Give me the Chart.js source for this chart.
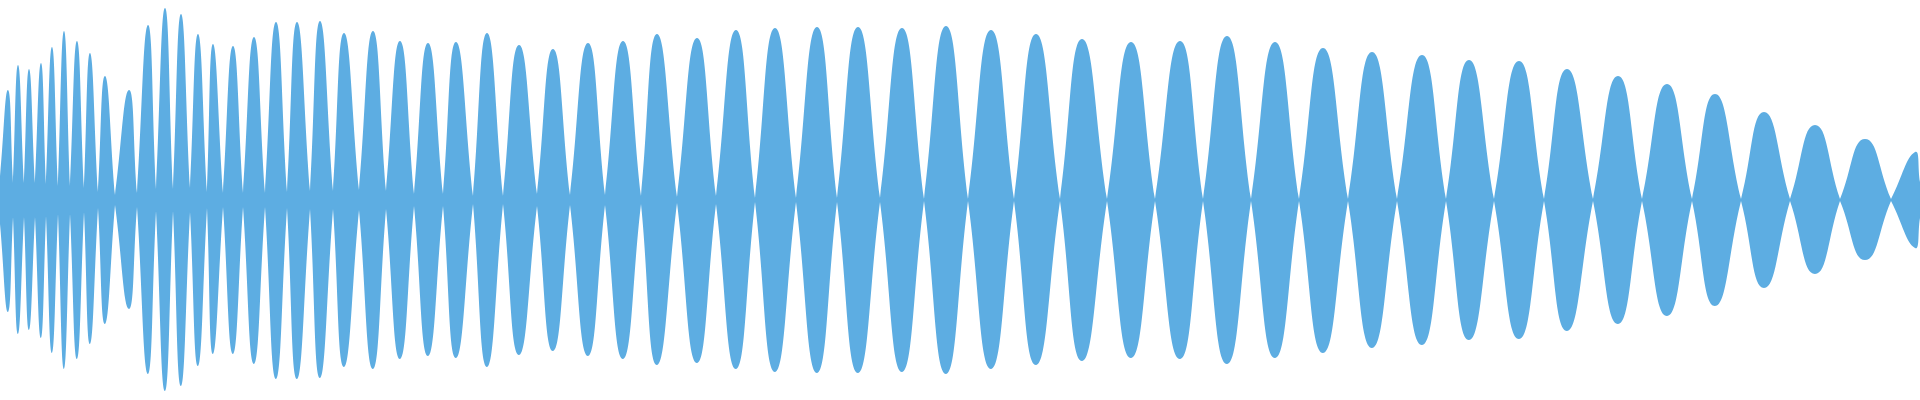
<!DOCTYPE html>
<html>
<head>
<meta charset="utf-8">
<style>
  html, body { margin: 0; padding: 0; background: #ffffff; }
  #wrap { width: 1920px; height: 400px; position: relative; }
</style>
<script src="https://cdn.jsdelivr.net/npm/chart.js@4"></script>
</head>
<body>
<div id="wrap"><canvas id="onda"></canvas></div>
<script>
// Posições (amostra) onde o envelope cruza o zero
const crossings = [0, 13, 24, 35, 46, 58, 70, 84, 98, 115, 137, 156, 173, 190, 207, 223, 243, 265, 287, 310,
    333, 359, 386, 414, 443, 473, 503, 537, 570, 605, 641, 677, 716, 755, 796, 837, 880, 924, 968,
    1014, 1060, 1107, 1155, 1203, 1251, 1299, 1348, 1397, 1446, 1494, 1544, 1593, 1642, 1692, 1741,
    1790, 1840, 1891, 1920];

// Amplitude residual em cada cruzamento
const crossLevel = [0.12, 0.085, 0.085, 0.085, 0.08, 0.07, 0.07, 0.06, 0.04, 0.025, 0.035, 0.055, 0.055, 0.06, 0.04,
    0.035, 0.035, 0.035, 0.04, 0.045, 0.045, 0.05, 0.045, 0.03, 0.03, 0.02, 0.02, 0.03, 0.025, 0.025, 0.02,
    0.015, 0.02, 0.01, 0.01, 0.01, 0.01, 0.005, 0.005, 0.005, 0.005, 0.005, 0.005, 0.005, 0.005, 0.005,
    0.005, 0.005, 0.005, 0.005, 0.005, 0.005, 0.005, 0.005, 0.005, 0.005, 0.005, 0.005, 0.09];

// Posição do pico de cada lóbulo
const peakX = [8, 18, 29, 41, 52, 64, 77, 90, 105, 129, 148, 165, 181, 198, 213, 233, 254, 276, 297, 320,
    344, 373, 400, 428, 456, 487, 519, 553, 588, 623, 657, 697, 736, 775, 817, 858, 902, 946, 991,
    1036, 1082, 1131, 1180, 1227, 1275, 1323, 1372, 1422, 1469, 1519, 1567, 1618, 1667, 1715, 1764,
    1815, 1865, 1915];

// Pico positivo de cada lóbulo
const upperPeak = [0.55, 0.675, 0.655, 0.685, 0.765, 0.845, 0.795, 0.735, 0.62, 0.55, 0.875, 0.96, 0.93, 0.83,
    0.78, 0.77, 0.815, 0.89, 0.89, 0.895, 0.835, 0.845, 0.795, 0.785, 0.79, 0.835, 0.775, 0.755, 0.785,
    0.795, 0.83, 0.81, 0.85, 0.86, 0.865, 0.865, 0.86, 0.87, 0.85, 0.83, 0.805, 0.79, 0.795, 0.82, 0.79,
    0.76, 0.74, 0.725, 0.70, 0.695, 0.655, 0.62, 0.58, 0.53, 0.44, 0.375, 0.305, 0.24];

// Pico negativo (módulo) de cada lóbulo
const lowerPeak = [0.56, 0.67, 0.65, 0.69, 0.765, 0.845, 0.795, 0.72, 0.62, 0.545, 0.87, 0.955, 0.93, 0.83,
    0.77, 0.77, 0.82, 0.895, 0.895, 0.89, 0.835, 0.845, 0.795, 0.78, 0.79, 0.835, 0.775, 0.755, 0.78,
    0.795, 0.825, 0.815, 0.845, 0.86, 0.865, 0.865, 0.86, 0.87, 0.845, 0.825, 0.805, 0.79, 0.795, 0.82, 0.79,
    0.765, 0.74, 0.725, 0.70, 0.695, 0.655, 0.62, 0.58, 0.53, 0.44, 0.37, 0.30, 0.24];

const COR = "#5dade2";

// Monta os pontos de um lado do envelope; o cruzamento é repetido para ficar em bico
function montarLado(sinal, picos) {
    const pontos = [];
    for (let i = 0; i < peakX.length; i++) {
        pontos.push({ x: crossings[i], y: sinal * crossLevel[i] });
        pontos.push({ x: peakX[i], y: sinal * picos[i] });
        pontos.push({ x: crossings[i + 1], y: sinal * crossLevel[i + 1] });
    }
    return pontos;
}

document.addEventListener("DOMContentLoaded", () => {
    const ctx = document.getElementById("onda").getContext("2d");

    const base = {
        backgroundColor: COR,
        borderWidth: 0,
        pointRadius: 0,
        tension: 0.5,
        fill: "origin"
    };

    new Chart(ctx, {
        type: "line",
        data: {
            datasets: [
                Object.assign({ data: montarLado(1, upperPeak) }, base),
                Object.assign({ data: montarLado(-1, lowerPeak) }, base)
            ]
        },
        options: {
            responsive: true,
            maintainAspectRatio: false,
            animation: false,
            layout: { padding: 0 },
            plugins: {
                legend: { display: false },
                tooltip: { enabled: false }
            },
            scales: {
                x: { type: "linear", min: 0, max: 1920, display: false },
                y: { min: -1, max: 1, display: false }
            }
        }
    });
});
</script>
</body>
</html>
